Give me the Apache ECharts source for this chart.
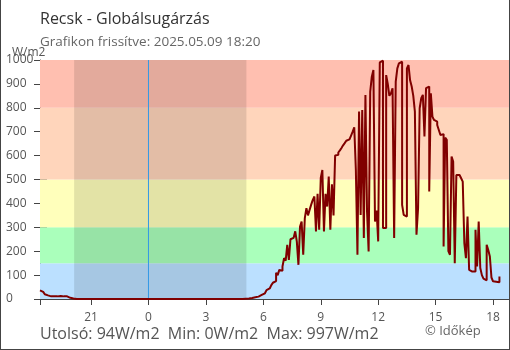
<!DOCTYPE html>
<html>
<head>
<meta charset="utf-8">
<script src="https://cdn.jsdelivr.net/npm/echarts@6/dist/echarts.min.js"></script>
<style>
  html, body { margin: 0; padding: 0; background: #fff; }
  #chart { width: 510px; height: 350px; }
</style>
</head>
<body>
<div id="chart"></div>
<script>
// Global irradiance at Recsk, 5-minute samples from 18:20 (May 8) to 18:20 (May 9), W/m2
const sampleStart = -(5 + 40 / 60);   // 18:20 of the previous day, in hours relative to midnight
const sampleStepMinutes = 5;

// 18:20 - 20:15
const eveningValues = [36, 30, 24, 20, 15, 12, 11, 11, 11, 11, 11, 11,
                       13, 14, 11, 12, 11, 9, 5, 4, 2, 1, 0, 0];
// 20:20 - 04:55
const nightValues = [
  0, 0, 0, 0, 0, 0, 0, 0, 0, 0, 0, 0, 0,
  0, 0, 0, 0, 0, 0, 0, 0, 0, 0, 0, 0, 0,
  0, 0, 0, 0, 0, 0, 0, 0, 0, 0, 0, 0, 0,
  0, 0, 0, 0, 0, 0, 0, 0, 0, 0, 0, 0, 0,
  0, 0, 0, 0, 0, 0, 0, 0, 0, 0, 0, 0, 0,
  0, 0, 0, 0, 0, 0, 0, 0, 0, 0, 0, 0, 0,
  0, 0, 0, 0, 0, 0, 0, 0, 0, 0, 0, 0, 0,
  0, 0, 0, 0, 0, 0, 0, 0, 0, 0, 0, 0, 0
];
// 05:00 - 18:20
const dayValues = [
  1, 1, 2, 3, 4, 5, 7, 8, 10, 13, 17, 20,                  // 05
  24, 30, 37, 44, 52, 58, 68, 75, 110, 100, 122, 118,      // 06
  136, 171, 160, 227, 164, 250, 256, 262, 283, 240, 143, 303, // 07
  324, 185, 338, 380, 350, 373, 395, 415, 429, 283, 440, 290, // 08
  506, 540, 283, 440, 387, 512, 290, 480, 350, 600, 603, 613, // 09
  622, 632, 643, 652, 662, 668, 675, 684, 700, 718, 540, 185, // 10
  784, 352, 791, 255, 854, 366, 199, 868, 930, 958, 324, 370, // 11
  241, 990, 997, 297, 297, 937, 900, 850, 861, 882, 255, 910, // 12
  965, 986, 993, 394, 352, 345, 965, 979, 915, 889, 850, 784, // 13
  269, 380, 798, 840, 854, 680, 882, 889, 450, 861, 763, 749, // 14
  742, 728, 707, 686, 690, 220, 675, 666, 200, 185, 596, 575, // 15
  150, 519, 519, 512, 505, 491, 234, 171, 345, 122, 115, 109, // 16
  115, 290, 136, 324, 130, 100, 85, 78, 227, 205, 178, 90,    // 17
  74, 72, 67, 70, 94                                          // 18
];

const irradiance = eveningValues.concat(nightValues, dayValues);

// Colour bands of the irradiance scale
const bandEdges  = [0, 150, 300, 500, 800, 1000];
const bandColors = ['#bbe0ff', '#aaffbb', '#ffffbb', '#ffd5bb', '#ffbfb0'];

// Night (sunset to sunrise), hours relative to midnight
const sunset  = -(3 + 53 / 60);   // 20:07
const sunrise = 5 + 7 / 60;       // 05:07

const hourTicks = [-3, 0, 3, 6, 9, 12, 15, 18];
const axisMin = sampleStart;      // 18:20
const axisMax = 18 + 50 / 60;     // 18:50

const titleText = 'Recsk - Globálsugárzás';
const subtitleText = 'Grafikon frissítve: 2025.05.09 18:20';
const footerText = 'Utolsó: 94W/m2  Min: 0W/m2  Max: 997W/m2';
const creditText = '© Időkép';
const unitText = 'W/m2';

const FONT = '"Open Sans", "Noto Sans", sans-serif';
const AXIS_COLOR = '#444';
const LABEL_COLOR = '#555';

const points = irradiance.map((v, i) => [sampleStart + i * sampleStepMinutes / 60, v]);

const bandAreas = bandColors.map((c, i) => [
  { coord: [axisMin, bandEdges[i]], itemStyle: { color: c, borderWidth: 0 } },
  { coord: [axisMax, bandEdges[i + 1]] }
]);

const chart = echarts.init(document.getElementById('chart'), null, { renderer: 'canvas' });

chart.setOption({
  animation: false,
  grid: { left: 40, right: 1, top: 60, bottom: 51, containLabel: false },
  xAxis: [
    {
      type: 'value', min: axisMin, max: axisMax,
      axisLine: { show: true, onZero: false, lineStyle: { color: AXIS_COLOR, width: 1 } },
      axisTick: { show: true, length: 6, customValues: [axisMin].concat(hourTicks),
                  lineStyle: { color: AXIS_COLOR, width: 1 } },
      axisLabel: { customValues: hourTicks, margin: 13, color: LABEL_COLOR,
                   fontFamily: FONT, fontSize: 12,
                   formatter: v => String((Math.round(v) + 24) % 24) },
      splitLine: { show: false }
    },
    {
      type: 'value', min: axisMin, max: axisMax, position: 'bottom',
      axisLine: { show: false, onZero: false },
      axisTick: { show: true, inside: true, length: 6, customValues: hourTicks,
                  lineStyle: { color: AXIS_COLOR, width: 1 } },
      axisLabel: { show: false },
      splitLine: { show: false }
    }
  ],
  yAxis: [
    {
      type: 'value', min: 0, max: 1000, interval: 100, position: 'left',
      axisLine: { show: true, onZero: false, lineStyle: { color: AXIS_COLOR, width: 1 } },
      axisTick: { show: true, length: 6, lineStyle: { color: AXIS_COLOR, width: 1 } },
      axisLabel: { margin: 34, align: 'left', color: LABEL_COLOR, fontFamily: FONT, fontSize: 12,
                   formatter: v => String(v) },
      splitLine: { show: false }
    },
    {
      type: 'value', min: 0, max: 1000, interval: 100, position: 'left',
      axisLine: { show: false, onZero: false },
      axisTick: { show: true, inside: true, length: 7, lineStyle: { color: AXIS_COLOR, width: 1 } },
      axisLabel: { show: false },
      splitLine: { show: false }
    }
  ],
  series: [
    {
      name: 'bands', type: 'line', data: [], z: 1, silent: true,
      markArea: { silent: true, label: { show: false }, data: bandAreas }
    },
    {
      name: 'night', type: 'line', data: [], z: 2, silent: true,
      markArea: {
        silent: true, label: { show: false },
        itemStyle: { color: 'rgba(0,0,0,0.11)', borderWidth: 0 },
        data: [[{ coord: [sunset, 0] }, { coord: [sunrise, 1000] }]]
      }
    },
    {
      name: 'midnight', type: 'line', silent: true, z: 2,
      data: [[0, 0], [0, 1000]], showSymbol: false,
      lineStyle: { color: '#3399e6', width: 1 }
    },
    {
      name: 'Globálsugárzás', type: 'line', data: points, z: 3,
      step: 'end', showSymbol: false, clip: true,
      lineStyle: { color: '#800000', width: 2 }
    }
  ],
  graphic: [
    { type: 'text', left: 40, top: 11,
      style: { text: titleText, font: '16px ' + FONT, fill: '#333' } },
    { type: 'text', left: 40, top: 35,
      style: { text: subtitleText, font: '13.5px ' + FONT, fill: '#666' } },
    { type: 'text', left: 12, top: 47,
      style: { text: unitText, font: '12px ' + FONT, fill: LABEL_COLOR } },
    { type: 'text', left: 40, top: 326,
      style: { text: footerText, font: '16px ' + FONT, fill: '#555' } },
    { type: 'text', left: 425, top: 325,
      style: { text: creditText, font: '13px ' + FONT, fill: '#666' } },
    { type: 'line', shape: { x1: 0.5, y1: 0, x2: 0.5, y2: 349.5 },
      style: { stroke: '#444', lineWidth: 1 } },
    { type: 'line', shape: { x1: 509.5, y1: 0, x2: 509.5, y2: 349.5 },
      style: { stroke: '#444', lineWidth: 1 } },
    { type: 'line', shape: { x1: 0, y1: 349.5, x2: 510, y2: 349.5 },
      style: { stroke: '#444', lineWidth: 1 } }
  ]
});
</script>
</body>
</html>
